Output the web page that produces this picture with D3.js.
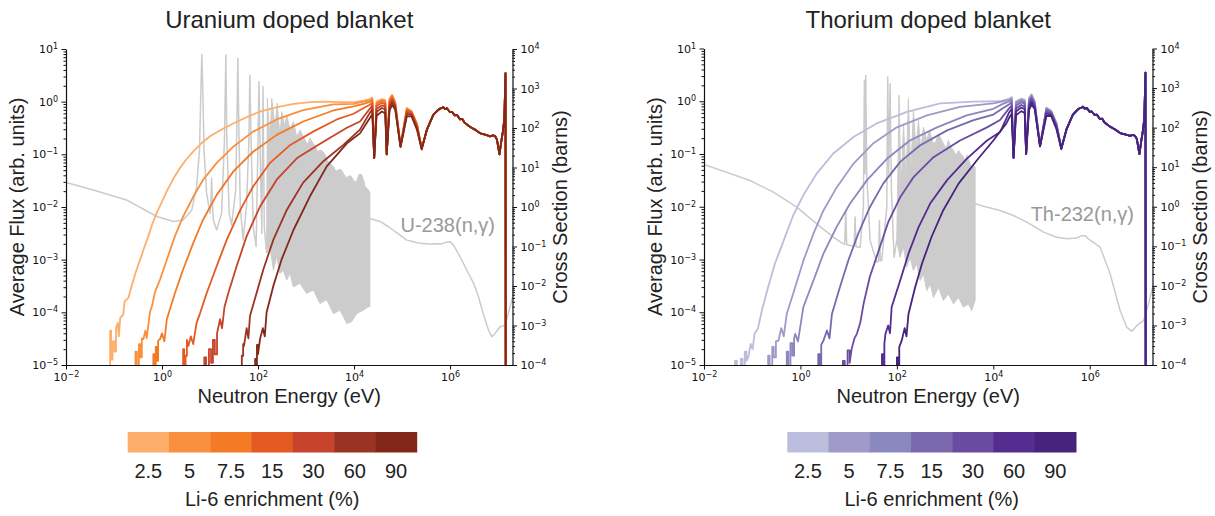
<!DOCTYPE html>
<html><head><meta charset="utf-8">
<script src="https://cdn.jsdelivr.net/npm/d3@7"></script>
<style>body{margin:0;background:#fff}svg{display:block}</style>
</head><body>
<svg id="chart" width="1215" height="516"></svg>
<script>
// ---------------- DATA ----------------
const enrichment = ["2.5","5","7.5","15","30","60","90"];
const panelTitles = ["Uranium doped blanket","Thorium doped blanket"];
const xsLabels = ["U-238(n,\u03b3)","Th-232(n,\u03b3)"];
const xTickValues = [1e-2,1e0,1e2,1e4,1e6];

// Flux, low-energy parts [energy eV, flux]
const uFlux2_5 = [[8.3e-2,1e-6],[8.3e-2,4.5e-5],[8.7e-2,4.5e-5],[8.7e-2,1.26e-5],[9.3e-2,1.26e-5],[9.3e-2,2.8e-5],[0.102,2.8e-5],[0.102,1.8e-5],[0.11,1.8e-5],[0.11,5e-5],[0.12,6.3e-5],[0.126,3.5e-5],[0.135,7.9e-5],[0.155,8.9e-5],[0.166,1.6e-4],[0.2,1.9e-4],[0.234,3.2e-4],[0.28,5.6e-4],[0.35,1e-3],[0.43,1.74e-3],[0.52,2.8e-3],[0.63,4.8e-3],[0.78,7.8e-3],[1.0,1.26e-2],[1.26,2e-2],[1.74,3.5e-2],[2.37,5.5e-2],[3.16,7.9e-2],[4.5,0.114],[6.6,0.162],[10,0.22],[17.8,0.30],[31,0.39],[56,0.5],[110,0.65],[250,0.79],[550,0.91],[1260,0.98],[2700,1.0],[5000,0.98],[1e4,0.98],[1.6e4,1.05]];
const uFlux5 = [[0.28,1e-6],[0.28,1.8e-5],[0.30,1.8e-5],[0.30,1e-6],[0.33,1e-6],[0.33,2.5e-5],[0.355,2.5e-5],[0.355,1.4e-5],[0.38,1.4e-5],[0.38,3.2e-5],[0.41,3.1e-5],[0.45,4.5e-5],[0.48,3.2e-5],[0.56,1e-4],[0.63,1.4e-4],[0.71,2.4e-4],[0.91,4.2e-4],[1.26,1e-3],[1.86,2.8e-3],[2.75,6.6e-3],[4.5,1.58e-2],[7.2,3.3e-2],[13.8,6.9e-2],[31,0.141],[79,0.27],[245,0.46],[870,0.69],[3700,0.89],[9800,0.91],[1.58e4,1.0]];
const uFlux7_5 = [[0.66,1e-6],[0.66,1.6e-5],[0.69,1.6e-5],[0.69,1e-6],[0.74,1e-6],[0.74,2.2e-5],[0.78,2.2e-5],[0.78,1.2e-5],[0.83,1.2e-5],[0.83,2.9e-5],[0.91,3.1e-5],[1.0,4e-5],[1.12,2.8e-5],[1.26,7.4e-5],[1.51,1.26e-4],[1.86,2.3e-4],[2.75,6.5e-4],[4.5,2.1e-3],[7.2,5.8e-3],[13.8,1.7e-2],[31,4.8e-2],[79,0.112],[245,0.234],[870,0.42],[3700,0.68],[9800,0.81],[1.58e4,0.91]];
const uFlux15 = [[2.75,1e-6],[2.75,2e-5],[2.9,2e-5],[2.9,1e-6],[3.1,1e-6],[3.1,1.5e-5],[3.3,1.5e-5],[3.3,3e-5],[3.55,2.3e-5],[3.98,3.5e-5],[4.47,2.5e-5],[5.25,6.3e-5],[6.3,1e-4],[8.5,2.3e-4],[13.8,7.6e-4],[22.4,2.4e-3],[43,8.9e-3],[79,2.45e-2],[178,6.9e-2],[470,0.151],[1410,0.27],[4370,0.46],[9800,0.59],[1.58e4,0.76]];
const uFlux30 = [[7.6,1e-6],[7.6,1.4e-5],[8.3,1.4e-5],[8.3,1e-6],[9.5,1e-6],[9.5,2e-5],[10.5,2e-5],[10.5,1.1e-5],[11.5,1.1e-5],[11.5,3e-5],[12.6,3e-5],[12.6,1.6e-5],[14,1.6e-5],[14,4e-5],[16.2,7.4e-5],[17.8,5e-5],[20,1.26e-4],[24,2.3e-4],[36,7.6e-4],[58,2.8e-3],[110,1.02e-2],[245,3.3e-2],[650,8.5e-2],[2300,0.174],[7100,0.32],[1.33e4,0.42]];
const uFlux60 = [[46,1e-6],[46,1.5e-5],[49,1.5e-5],[49,2.5e-5],[51,2.3e-5],[58,5e-5],[63,3.2e-5],[68,8.5e-5],[93,2.3e-4],[129,6.5e-4],[209,2.4e-3],[400,8.9e-3],[870,2.9e-2],[2300,7.4e-2],[6000,0.151],[1.33e4,0.295]];
const uFlux90 = [[87,1e-6],[87,1.3e-5],[90,1.3e-5],[90,1e-6],[95,1e-6],[95,2.4e-5],[100,2.4e-5],[100,1.6e-5],[110,3.1e-5],[126,5e-5],[138,3.5e-5],[151,1e-4],[209,3.2e-4],[309,1e-3],[550,3.7e-3],[1200,1.58e-2],[2700,5.9e-2],[7100,0.162],[1.33e4,0.25]];

const thFlux2_5 = [[4.4e-2,1e-6],[4.4e-2,1.2e-5],[4.8e-2,1.2e-5],[4.8e-2,1e-6],[5.8e-2,1e-6],[5.8e-2,1.3e-5],[6.3e-2,1.3e-5],[6.3e-2,1e-6],[7.0e-2,1e-6],[7.0e-2,1.8e-5],[7.6e-2,1.8e-5],[7.6e-2,1.2e-5],[8.3e-2,1.4e-5],[9.3e-2,2.5e-5],[0.102,2e-5],[0.112,3.9e-5],[0.132,5e-5],[0.158,1.07e-4],[0.214,3e-4],[0.295,8.3e-4],[0.45,2.3e-3],[0.71,6.9e-3],[1.15,1.66e-2],[2.19,4.3e-2],[4.8,0.102],[12.6,0.21],[38,0.38],[162,0.63],[790,0.91],[3900,0.98],[1.38e4,1.0]];
const thFlux5 = [[0.214,1e-6],[0.214,1.5e-5],[0.23,1.5e-5],[0.23,1e-6],[0.26,1e-6],[0.26,2.2e-5],[0.28,2.2e-5],[0.28,1.4e-5],[0.31,1.4e-5],[0.31,2.8e-5],[0.35,2.9e-5],[0.4,5e-5],[0.45,3.5e-5],[0.52,9.3e-5],[0.78,3e-4],[1.15,9.5e-4],[1.86,3.1e-3],[3.0,8.5e-3],[5.6,2.3e-2],[12.6,6.6e-2],[32,0.158],[100,0.32],[420,0.54],[2040,0.78],[1e4,0.91],[1.58e4,1.0]];
const thFlux7_5 = [[0.52,1e-6],[0.52,1.8e-5],[0.56,1.8e-5],[0.56,1e-6],[0.62,1e-6],[0.62,2.6e-5],[0.68,2.6e-5],[0.68,1.5e-5],[0.74,1.5e-5],[0.74,3.2e-5],[0.78,3.9e-5],[0.89,2.8e-5],[1.15,1.26e-4],[1.86,4e-4],[3.0,1.29e-3],[5.6,4.1e-3],[10.7,1.15e-2],[24,3.2e-2],[62,8.1e-2],[186,0.18],[680,0.32],[2800,0.54],[1e4,0.72],[1.58e4,0.89]];
const thFlux15 = [[2.34,1e-6],[2.34,1.6e-5],[2.5,1.6e-5],[2.5,1e-6],[2.7,1e-6],[2.7,2.4e-5],[3.0,2.9e-5],[3.55,4.5e-5],[4.0,3.2e-5],[4.5,9.3e-5],[6.6,3e-4],[9.8,9.5e-4],[15.8,3.1e-3],[27.5,9.8e-3],[52,2.75e-2],[117,7.1e-2],[300,0.145],[1100,0.28],[3900,0.44],[1e4,0.56],[1.58e4,0.74]];
const thFlux30 = [[7.6,1e-6],[7.6,1.2e-5],[8.3,1.2e-5],[8.3,1e-6],[9.5,1e-6],[9.5,1.9e-5],[10.5,1.9e-5],[10.5,1.1e-5],[11.5,2e-5],[13.2,3.2e-5],[14.8,3.9e-5],[17.4,6.3e-5],[20.4,1.45e-4],[27.5,4.7e-4],[42,1.48e-3],[66,5.1e-3],[117,1.51e-2],[219,3.6e-2],[575,8.7e-2],[2040,0.18],[7400,0.32],[1.38e4,0.44]];
const thFlux60 = [[49,1e-6],[49,1.6e-5],[52,1.6e-5],[52,1e-6],[55,1e-6],[55,2.5e-5],[58,3.9e-5],[66,5.6e-5],[72,4e-5],[78,1.26e-4],[117,4e-4],[174,1.29e-3],[282,4.1e-3],[490,1.15e-2],[1100,3.2e-2],[2800,8.1e-2],[7400,0.18],[1.38e4,0.26]];
const thFlux90 = [[100,1e-6],[100,1.4e-5],[105,1.4e-5],[105,1e-6],[112,1e-6],[112,2.2e-5],[126,2.9e-5],[145,5e-5],[158,3.5e-5],[174,9.3e-5],[240,3e-4],[331,8.3e-4],[525,2.7e-3],[910,8.5e-3],[1900,2.75e-2],[4570,7.6e-2],[1e4,0.18],[1.86e4,0.38]];

// Fast region (shared energies), flux per enrichment
const energyMid = [2.14e4,2.4e4,2.63e4,2.95e4,3.8e4,4.47e4,4.79e4,5.5e4,6.2e4,7.2e4,9.3e4,1.26e5,1.58e5,2.04e5,2.57e5];
const fluxMid2_5 = [1.12,1.2,0.085,1.0,1.12,1.07,0.1,1.15,1.35,1.0,0.145,0.76,0.66,0.39,0.132];
const fluxMid5   = [1.06,1.14,0.085,0.955,1.08,1.03,0.1,1.11,1.31,0.98,0.144,0.74,0.65,0.38,0.131];
const fluxMid7_5 = [0.99,1.08,0.085,0.91,1.03,0.98,0.1,1.06,1.26,0.95,0.143,0.72,0.64,0.373,0.13];
const fluxMid15  = [0.875,0.96,0.085,0.83,0.95,0.9,0.1,0.98,1.18,0.9,0.142,0.68,0.62,0.358,0.129];
const fluxMid30  = [0.74,0.83,0.085,0.73,0.85,0.8,0.1,0.88,1.08,0.84,0.141,0.63,0.59,0.339,0.128];
const fluxMid60  = [0.62,0.71,0.085,0.64,0.76,0.71,0.1,0.79,0.98,0.78,0.14,0.58,0.56,0.32,0.127];
const fluxMid90  = [0.49,0.575,0.085,0.54,0.65,0.6,0.1,0.68,0.87,0.71,0.138,0.525,0.525,0.295,0.123];
const tailEnergy = [3.3e5,4.47e5,5.5e5,6.2e5,6.8e5,7.2e5,7.9e5,8.6e5,1e6,1.1e6,1.26e6,1.4e6,1.62e6,1.8e6,2e6,2.63e6,3.3e6,4.27e6,5.6e6,6.8e6,7.9e6,8.7e6,9.5e6,1.07e7,1.17e7,1.26e7,1.35e7,1.43e7,1.445e7];
const tailFlux   = [0.295,0.56,0.68,0.74,0.76,0.79,0.72,0.75,0.63,0.64,0.55,0.56,0.46,0.47,0.40,0.33,0.295,0.25,0.234,0.22,0.23,0.22,0.19,0.1,0.178,0.27,0.46,3.47,1e-6];

// Capture cross sections [energy eV, barns]
const u238Res = [[1e-2,4.2],[3.7e-2,2.7],[0.182,1.51],[0.78,0.575],[1.74,0.43],[2.75,0.47],[4.17,0.83],[5.25,3.24],[6.03,27.5],[6.46,912],[6.76,7400],[7.08,912],[7.5,27.5],[8.5,2.24],[10,0.69],[10.5,1.5],[10.8,5.4],[11.1,1.5],[11.7,0.47],[13.8,0.263],[17.4,0.69],[20,50],[21.4,7100],[22.4,50],[25.1,0.69],[28.2,0.35],[34.3,2.7],[36.3,132],[38,5750],[39.8,132],[42.7,1.02],[49,0.145],[57.5,1.02],[64.6,50],[67.6,2190],[71.6,50],[79.4,0.316],[91.2,0.1],[100,50],[104.7,1480],[109.6,50],[120,0.214],[127,1120],[135,0.316],[151,6.8e-2]];
const u238ForestTop = [[151,6.8e-2],[156,562],[178,50],[193,562],[226,107],[251,427],[287,60],[311,257],[363,107],[395,214],[465,89],[545,145],[640,60],[750,89],[953,50],[1080,38],[1210,55],[1380,42],[1550,34],[1750,25],[1950,27.5],[2200,26],[2510,21],[2800,15],[3160,12.9],[3720,10.5],[4200,8],[4680,8.7],[5300,9],[6030,7.1],[6800,5.5],[7590,5.9],[8500,6.2],[9680,4.8],[1.1e4,4.2],[1.23e4,5.9],[1.3e4,6.8],[1.45e4,6.5],[1.6e4,4.5],[1.7e4,3.3],[1.85e4,3.0],[2.0e4,2.7],[2.14e4,2.24]];
const u238ForestBottom = [[151,6.8e-2],[178,0.1],[209,2.5e-2],[245,5.5e-2],[287,2.1e-2],[337,2.5e-2],[395,1.41e-2],[465,2.1e-2],[545,9.5e-3],[750,1.17e-2],[1030,6.5e-3],[1420,7.9e-3],[1950,3.6e-3],[2690,4.5e-3],[3720,2.0e-3],[5130,2.45e-3],[7080,1.12e-3],[8910,1.26e-3],[1.14e4,2.0e-3],[1.56e4,2.45e-3],[2.0e4,3.0e-3],[2.14e4,3.0e-3]];
const u238Tail = [[2.14e4,0.51],[3.47e4,0.43],[5.25e4,0.316],[7.08e4,0.24],[9.1e4,0.195],[1.26e5,0.145],[1.74e5,0.132],[2.37e5,0.12],[3.8e5,0.115],[5e5,0.118],[6.2e5,0.115],[8.5e5,0.129],[1e6,0.132],[1.17e6,0.11],[1.62e6,5.5e-2],[2.24e6,2.5e-2],[3.1e6,1.17e-2],[3.9e6,5.4e-3],[4.9e6,2.0e-3],[6.3e6,7.8e-4],[7.4e6,5.2e-4],[8.7e6,6.3e-4],[1.1e7,9.3e-4],[1.41e7,1.02e-3],[1.78e7,3.0e-3],[2.1e7,6.5e-3]];

const th232Res = [[1e-2,11.7],[9.0e-2,4.6],[0.274,2.34],[0.84,0.98],[2.18,0.37],[4.82,0.17],[7.78,0.115],[8.3,0.112],[8.7,0.81],[9.1,0.11],[10.7,0.105],[13.0,0.1],[13.6,0.55],[14.2,0.098],[17.3,0.095],[20.2,0.98],[21.2,1580],[21.9,6.8],[22.6,2090],[23.7,6.8],[27.8,0.141],[38.2,3.98e-2],[41.7,4.2e-2],[43.5,0.447],[45.3,4.3e-2],[48.5,4.37e-2],[61.7,0.98],[64.6,1900],[67.6,6.8],[72.3,1290],[77.1,2.57],[87.5,5.2e-2],[99.3,0.141]];
const th232ForestTop = [[99.3,0.141],[111,660],[122,2.57],[137,126],[155,4.6],[173,537],[194,6.8],[220,275],[250,26.6],[280,153],[313,26.6],[355,104],[417,47.9],[473,85],[573,39.3],[650,45],[728,70],[820,52],[923,39.3],[1050,30],[1170,47.9],[1300,33],[1490,26.6],[1700,20],[1890,26.6],[2100,22],[2400,18],[2600,14],[2820,20],[3100,15],[3300,12.2],[3600,9],[3870,11.1],[4190,10.1]];
const th232ForestBottom = [[99.3,0.141],[116,5.3e-2],[137,9.5e-2],[160,2.95e-2],[188,5.3e-2],[220,2.45e-2],[258,3.6e-2],[303,1.36e-2],[355,2.0e-2],[417,7.6e-3],[489,1.12e-2],[573,5.1e-3],[728,9.2e-3],[923,4.3e-3],[1170,6.3e-3],[1490,3.5e-3],[1890,5.1e-3],[2400,2.9e-3],[3050,3.5e-3],[3570,2.37e-3],[4190,4.3e-3]];
const th232Tail = [[4190,1.19],[7240,0.98],[1.38e4,0.805],[2.62e4,0.6],[4.94e4,0.41],[1.1e5,0.229],[2.07e5,0.17],[3.34e5,0.155],[5.4e5,0.162],[6.8e5,0.186],[8e5,0.186],[9.3e5,0.155],[1.64e6,9.5e-2],[2.65e6,2.0e-2],[4.27e6,2.35e-3],[5.9e6,8.9e-4],[7.5e6,7.1e-4],[9.5e6,1e-3],[1.3e7,1.32e-3],[1.65e7,3.5e-3],[2.1e7,1.12e-2]];

// ---------------- STYLE ----------------
const uraniumColors = ["#fdae6b","#f8903f","#f37b26","#e45a23","#c7432b","#9b3322","#832818"];
const thoriumColors = ["#bcbddc","#9f9ac8","#8b87bf","#7a68ad","#6a4ba2","#552c8f","#46237d"];
const LABEL_FONT = "'Liberation Sans', Arial, sans-serif";
const TICK_FONT = "'DejaVu Sans', sans-serif";

// ---------------- BUILD ----------------
const midRows = [fluxMid2_5,fluxMid5,fluxMid7_5,fluxMid15,fluxMid30,fluxMid60,fluxMid90];
function assemble(lows){
  return lows.map((low,i)=>low
    .concat(energyMid.map((e,j)=>[e, midRows[i][j]]))
    .concat(tailEnergy.map((e,j)=>[e, tailFlux[j]])));
}
const uSeries = assemble([uFlux2_5,uFlux5,uFlux7_5,uFlux15,uFlux30,uFlux60,uFlux90]);
const thSeries = assemble([thFlux2_5,thFlux5,thFlux7_5,thFlux15,thFlux30,thFlux60,thFlux90]);

const svg = d3.select("#chart");
const defs = svg.append("defs");

function supLabel(sel){
  sel.each(function(d){
    const t = d3.select(this);
    const e = Math.round(Math.log10(d));
    t.text(null);
    t.append("tspan").text("10");
    t.append("tspan").attr("dy","-0.5em").attr("font-size","8px").text(e<0 ? "\u2212"+(-e) : String(e));
  });
}
function minors(lo,hi){
  const out=[];
  for(let k=lo;k<hi;k++) for(let m=2;m<=9;m++) out.push(m*Math.pow(10,k));
  return out;
}
function styleAxis(g){
  g.selectAll("path.domain").attr("stroke","#111").attr("stroke-width",1.2);
  g.selectAll(".tick line").attr("stroke","#111").attr("stroke-width",1);
  g.selectAll(".tick text").attr("font-family",TICK_FONT).attr("font-size","11px").attr("fill","#111");
}

function drawPanel(p){
  const x = d3.scaleLog().domain([1e-2,2e7]).range([p.x0,p.x1]);
  const yL = d3.scaleLog().domain([1e-5,10]).range([p.y1,p.y0]);
  const yR = d3.scaleLog().domain([1e-4,1e4]).range([p.y1,p.y0]);
  const clipId = "clip"+p.id;
  defs.append("clipPath").attr("id",clipId).append("rect")
    .attr("x",p.x0).attr("y",p.y0).attr("width",p.x1-p.x0).attr("height",p.y1-p.y0);
  const plot = svg.append("g").attr("clip-path",`url(#${clipId})`);

  const xsLine = d3.line().x(d=>x(d[0])).y(d=>yR(d[1]));
  const forest = p.forestTop.concat(p.forestBottom.slice().reverse());
  plot.append("path").datum(forest).attr("d",d=>xsLine(d)+"Z")
    .attr("fill","#cccccc").attr("stroke","#cccccc").attr("stroke-width",1).attr("stroke-linejoin","round");
  [p.xsRes,p.xsTail].forEach(arr=>{
    plot.append("path").datum(arr).attr("d",xsLine)
      .attr("fill","none").attr("stroke","#cbcbcb").attr("stroke-width",1.5).attr("stroke-linejoin","round");
  });

  const fl = d3.line().x(d=>x(d[0])).y(d=>yL(d[1]));
  p.series.forEach((s,i)=>{
    plot.append("path").datum(s).attr("d",fl)
      .attr("fill","none").attr("stroke",p.colors[i]).attr("stroke-width",1.8)
      .attr("stroke-linejoin","round");
  });

  // xs label
  svg.append("text").attr("x",p.labelX).attr("y",p.labelY).attr("text-anchor","end")
    .attr("font-family",LABEL_FONT).attr("font-size","20px").attr("fill","#999999").text(p.xsLabel);

  // axes
  const gx = svg.append("g").attr("transform",`translate(0,${p.y1})`)
    .call(d3.axisBottom(x).tickValues(xTickValues).tickSize(4.5).tickPadding(3.5).tickSizeOuter(0));
  gx.selectAll(".tick text").call(supLabel);
  styleAxis(gx);

  const gyl = svg.append("g").attr("transform",`translate(${p.x0},0)`)
    .call(d3.axisLeft(yL).tickValues(d3.range(-5,2).map(k=>Math.pow(10,k))).tickSize(4.5).tickPadding(3.5).tickSizeOuter(0));
  gyl.selectAll(".tick text").call(supLabel);
  styleAxis(gyl);
  const gylm = svg.append("g").attr("transform",`translate(${p.x0},0)`)
    .call(d3.axisLeft(yL).tickValues(minors(-5,1)).tickSize(2.5).tickFormat(()=>"").tickSizeOuter(0));
  gylm.select("path.domain").remove();
  styleAxis(gylm);

  const gyr = svg.append("g").attr("transform",`translate(${p.x1},0)`)
    .call(d3.axisRight(yR).tickValues(d3.range(-4,5).map(k=>Math.pow(10,k))).tickSize(4.5).tickPadding(3.5).tickSizeOuter(0));
  gyr.selectAll(".tick text").call(supLabel);
  styleAxis(gyr);
  const gyrm = svg.append("g").attr("transform",`translate(${p.x1},0)`)
    .call(d3.axisRight(yR).tickValues(minors(-4,4)).tickSize(2.5).tickFormat(()=>"").tickSizeOuter(0));
  gyrm.select("path.domain").remove();
  styleAxis(gyrm);

  // titles & labels
  const cx = (p.x0+p.x1)/2, cy = (p.y0+p.y1)/2;
  svg.append("text").attr("x",cx).attr("y",28).attr("text-anchor","middle")
    .attr("font-family",LABEL_FONT).attr("font-size","24px").attr("fill","#222").text(p.title);
  svg.append("text").attr("x",cx).attr("y",403).attr("text-anchor","middle")
    .attr("font-family",LABEL_FONT).attr("font-size","20px").attr("fill","#222").text("Neutron Energy (eV)");
  svg.append("text").attr("transform",`translate(${p.x0-42},${cy}) rotate(-90)`).attr("text-anchor","middle")
    .attr("font-family",LABEL_FONT).attr("font-size","20px").attr("fill","#222").text("Average Flux (arb. units)");
  svg.append("text").attr("transform",`translate(${p.x1+54},${cy}) rotate(-90)`).attr("text-anchor","middle")
    .attr("font-family",LABEL_FONT).attr("font-size","20px").attr("fill","#222").text("Cross Section (barns)");

  // colorbar
  const cb = d3.scaleBand().domain(enrichment).range([p.cbx0,p.cbx1]).padding(0);
  svg.append("g").selectAll("rect").data(enrichment).join("rect")
    .attr("x",d=>cb(d)).attr("y",432).attr("width",cb.bandwidth()+0.5).attr("height",20.5)
    .attr("fill",(d,i)=>p.colors[i]);
  svg.append("g").selectAll("text").data(enrichment).join("text")
    .attr("x",d=>cb(d)+cb.bandwidth()/2).attr("y",478).attr("text-anchor","middle")
    .attr("font-family",LABEL_FONT).attr("font-size","20px").attr("fill","#222").text(d=>d);
  svg.append("text").attr("x",(p.cbx0+p.cbx1)/2).attr("y",506).attr("text-anchor","middle")
    .attr("font-family",LABEL_FONT).attr("font-size","20px").attr("fill","#222").text("Li-6 enrichment (%)");
}

drawPanel({id:"u",x0:66,x1:512.5,y0:49,y1:365,series:uSeries,colors:uraniumColors,
  xsRes:u238Res,forestTop:u238ForestTop,forestBottom:u238ForestBottom,xsTail:u238Tail,
  xsLabel:xsLabels[0],labelX:495,labelY:232,title:panelTitles[0],cbx0:127.7,cbx1:416.7});
drawPanel({id:"th",x0:704,x1:1152.5,y0:48.5,y1:365,series:thSeries,colors:thoriumColors,
  xsRes:th232Res,forestTop:th232ForestTop,forestBottom:th232ForestBottom,xsTail:th232Tail,
  xsLabel:xsLabels[1],labelX:1134,labelY:221,title:panelTitles[1],cbx0:787.3,cbx1:1076});
</script>
</body></html>
